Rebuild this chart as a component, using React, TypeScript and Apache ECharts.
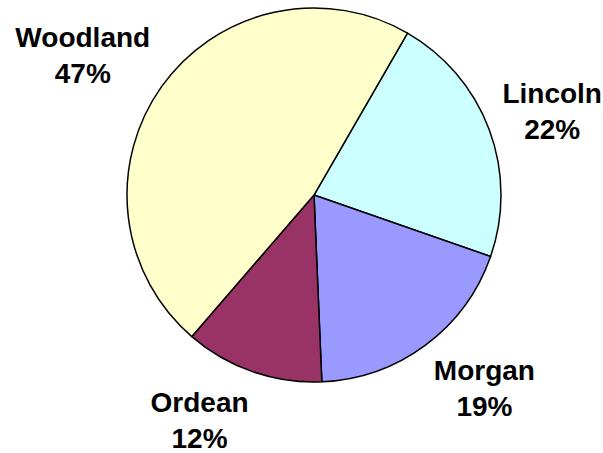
import React, { useEffect, useRef } from "react";
import * as echarts from "echarts";

const categories = ["Lincoln", "Morgan", "Ordean", "Woodland"];
const values = [22, 19, 12, 47];
const colors = ["#CCFFFF", "#9999FF", "#993366", "#FFFFCC"];

export default function App() {
  const ref = useRef<HTMLDivElement>(null);
  useEffect(() => {
    const chart = echarts.init(ref.current!, null, { renderer: "svg" });
    const cx = 314;
    const cy = 195;
    const R = 187;
    const gap = 14;
    const startAngle = 60; // echarts degrees (ccw from 3 o'clock)
    const total = values.reduce((a, b) => a + b, 0);
    const mids: number[] = [];
    let acc = 0;
    values.forEach((v) => {
      const a0 = acc;
      acc += (v / total) * 360;
      mids.push((a0 + acc) / 2);
    });
    const clamp = (v: number) => Math.max(-1, Math.min(1, v));
    chart.setOption({
      animation: false,
      backgroundColor: "#ffffff",
      series: [
        {
          type: "pie",
          center: [cx, cy],
          radius: [0, R],
          startAngle,
          clockwise: true,
          data: categories.map((c, i) => ({
            name: c,
            value: values[i],
            itemStyle: { color: colors[i] },
          })),
          itemStyle: { borderColor: "#000000", borderWidth: 1.5 },
          label: {
            show: true,
            position: "outside",
            formatter: (p: any) => `${p.name}\n${Math.round(p.percent)}%`,
            fontFamily: "Liberation Sans, Arial, sans-serif",
            fontWeight: "bold",
            fontSize: 28,
            lineHeight: 36,
            color: "#000000",
            align: "center",
            overflow: "none",
          },
          labelLine: { show: false },
          emphasis: { disabled: true },
          labelLayout: (p: any) => {
            const i = p.dataIndex;
            const ang = ((90 - startAngle + mids[i]) * Math.PI) / 180;
            const dx = Math.sin(ang);
            const dy = -Math.cos(ang);
            const ax = cx + (R + gap) * dx;
            const ay = cy + (R + gap) * dy;
            const w = p.labelRect ? p.labelRect.width : 100;
            const h = p.labelRect ? p.labelRect.height : 72;
            return {
              x: ax + clamp(dx * 3) * (w / 2),
              y: ay + clamp(dy * 1.1) * (h / 2),
              align: "center",
              verticalAlign: "middle",
              hideOverlap: false,
              moveOverlap: false,
            };
          },
        },
      ],
    });
    return () => chart.dispose();
  }, []);
  return (
    <div
      ref={ref}
      style={{ position: "fixed", left: 0, top: 0, width: 603, height: 453 }}
    />
  );
}
